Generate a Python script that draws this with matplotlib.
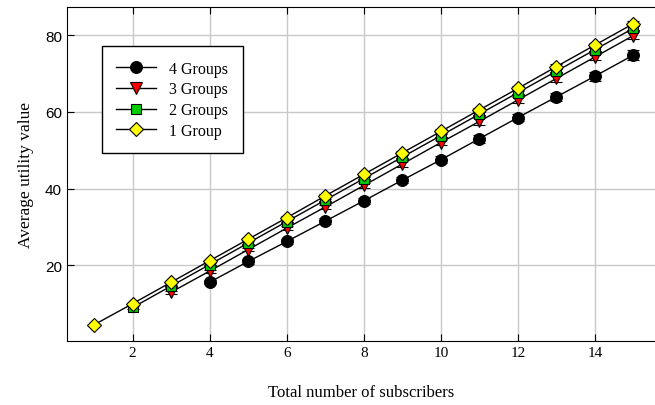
import numpy as np
import matplotlib.pyplot as plt

plt.rcParams["font.family"] = "Liberation Serif"

# Data
x_1g = [1, 2, 3, 4, 5, 6, 7, 8, 9, 10, 11, 12, 13, 14, 15]
y_1g = [4.5, 10.0, 15.6, 21.2, 26.8, 32.4, 38.1, 43.7, 49.3, 54.9, 60.5, 66.1, 71.8, 77.4, 83.0]
e_1g = [0.2, 0.2, 0.3, 0.3, 0.3, 0.4, 0.4, 0.4, 0.5, 0.5, 0.5, 0.6, 0.6, 0.6, 0.7]

x_2g = [2, 3, 4, 5, 6, 7, 8, 9, 10, 11, 12, 13, 14, 15]
y_2g = [9.0, 14.6, 20.2, 25.8, 31.4, 37.0, 42.6, 48.2, 53.8, 59.4, 65.0, 70.6, 76.2, 81.8]
e_2g = [0.3, 0.3, 0.3, 0.4, 0.4, 0.4, 0.5, 0.5, 0.5, 0.6, 0.6, 0.6, 0.7, 0.7]

x_3g = [3, 4, 5, 6, 7, 8, 9, 10, 11, 12, 13, 14, 15]
y_3g = [13.0, 18.5, 24.1, 29.7, 35.2, 40.8, 46.4, 52.0, 57.5, 63.1, 68.7, 74.3, 79.9]
e_3g = [0.4, 0.4, 0.5, 0.5, 0.6, 0.6, 0.7, 0.7, 0.8, 0.8, 0.9, 0.9, 1.0]

x_4g = [4, 5, 6, 7, 8, 9, 10, 11, 12, 13, 14, 15]
y_4g = [15.6, 21.0, 26.2, 31.5, 36.8, 42.2, 47.5, 53.0, 58.5, 63.9, 69.3, 74.8]
e_4g = [0.5, 0.6, 0.6, 0.7, 0.8, 0.8, 0.9, 1.0, 1.0, 1.1, 1.2, 1.3]

fig = plt.figure(figsize=(6.55, 4.06), dpi=100)
ax = fig.add_axes([0.102, 0.158, 0.898, 0.822])

# series: (x, y, err, marker, face colour, size, label)
series = [
    (x_4g, y_4g, e_4g, "o", "black", 8.5, "4 Groups"),
    (x_3g, y_3g, e_3g, "v", "red", 8.5, "3 Groups"),
    (x_2g, y_2g, e_2g, "s", "#00cc00", 7, "2 Groups"),
    (x_1g, y_1g, e_1g, "D", "yellow", 7.5, "1 Group"),
]
handles = []
for xs, ys, es, m, fc, ms, lab in series:
    c = ax.errorbar(xs, ys, yerr=es, color="black", lw=1, marker=m, markersize=ms,
                    markerfacecolor=fc, markeredgecolor="black", markeredgewidth=0.8,
                    ecolor="black", elinewidth=1, capsize=4.5, capthick=1, label=lab)
    handles.append(c[0])

ax.set_xlim(0.29, 15.56)
ax.set_ylim(0.3, 87.3)
ax.set_xticks([2, 4, 6, 8, 10, 12, 14])
ax.set_yticks([20, 40, 60, 80])
ax.grid(True, color="#c8c8c8", lw=1)
ax.set_axisbelow(True)
ax.tick_params(direction="in", top=True, length=5, labelsize=11)
for t in ax.get_yticklabels():
    t.set_family("Liberation Sans")
ax.spines["right"].set_visible(False)

ax.set_xlabel("Total number of subscribers", fontsize=12, labelpad=18)
ax.set_ylabel("Average utility value", fontsize=12.5, labelpad=8)

leg = ax.legend(handles=handles, labels=[s[6] for s in series],
                loc="upper left", bbox_to_anchor=(0.06, 0.883), fontsize=11.5,
                fancybox=False, edgecolor="black", framealpha=1,
                handlelength=2.5, borderpad=0.9, labelspacing=0.3,
                borderaxespad=0)
leg.get_frame().set_linewidth(1)

fig.savefig("out.png", dpi=100)
